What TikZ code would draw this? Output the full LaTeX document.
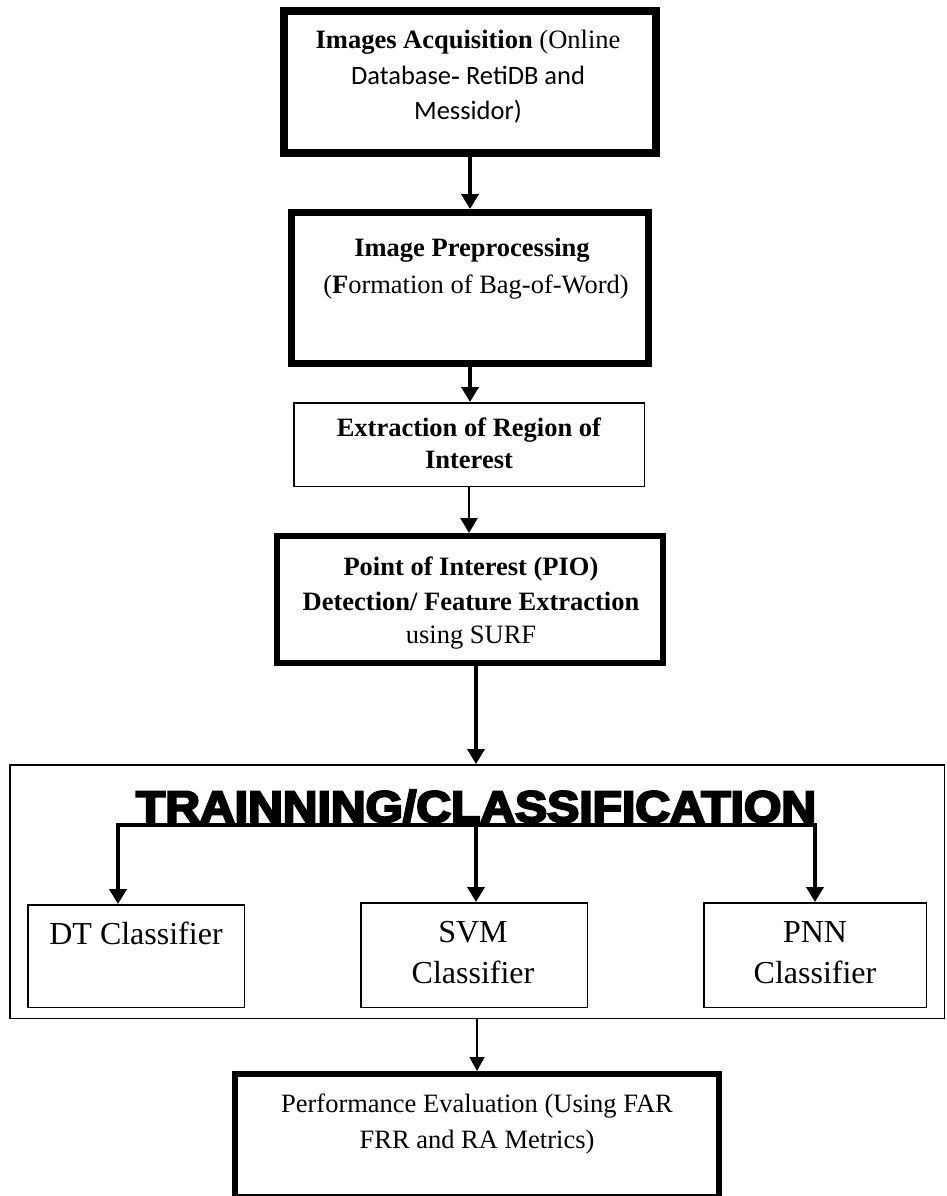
\documentclass[tikz,border=0pt]{standalone}
\usepackage{fontspec}
\setmainfont{Liberation Serif}
\newfontfamily\calibri{Carlito}
\newfontfamily\heavy[FakeBold=5]{Liberation Sans}
\usetikzlibrary{arrows.meta,calc}
\begin{document}
\begin{tikzpicture}[x=1pt,y=-1pt,
  box/.style={draw, rectangle, inner sep=0pt},
  txt/.style={anchor=base, inner sep=0pt, font=\fontsize{26.5}{30}\selectfont},
  ctxt/.style={anchor=base, inner sep=0pt, font=\fontsize{32}{36}\selectfont},
  thickarr/.style={line width=4.5pt, -{Triangle[width=17pt,length=15pt]}},
  medarr/.style={line width=2.5pt, -{Triangle[width=17pt,length=15pt]}},
  thinarr/.style={line width=1.5pt, -{Triangle[width=15pt,length=14pt]}},
]
\useasboundingbox (0,0) rectangle (947,1196);
\fill[white] (0,0) rectangle (947,1196);

% boxes
\node[box, line width=8pt, minimum width=372pt, minimum height=142pt] (b1) at (470,82) {};
\node[box, line width=7pt, minimum width=357pt, minimum height=151pt] (b2) at (470,288) {};
\node[box, line width=1.5pt, minimum width=350.5pt, minimum height=83.5pt] (b3) at (469,444.5) {};
\node[box, line width=6pt, minimum width=386pt, minimum height=127pt] (b4) at (470,599.5) {};
\node[box, line width=1.5pt, minimum width=934.5pt, minimum height=253.5pt] (big) at (477,891.5) {};
\node[box, line width=1.5pt, minimum width=216.5pt, minimum height=102.5pt] (dt) at (136,956) {};
\node[box, line width=1.5pt, minimum width=226.5pt, minimum height=104.5pt] (svm) at (474,955) {};
\node[box, line width=1.5pt, minimum width=222.5pt, minimum height=104.5pt] (pnn) at (815,955) {};
\node[box, line width=6pt, minimum width=484pt, minimum height=123pt] (perf) at (477,1135.5) {};

% texts box 1
\node[txt] (t1a) at (468,49) {\textbf{Images Acquisition} (Online};
\node[txt] (t1b) at (468,85) {\calibri Database{\rmfamily\bfseries -} RetiDB and};
\node[txt] (t1c) at (468,120) {\calibri Messidor)};
% box 2
\node[txt] (t2a) at (472,256) {\textbf{Image Preprocessing}};
\node[txt] (t2b) at (476,293) {(\textbf{F}ormation of Bag-of-Word)};
% box 3
\node[txt] (t3a) at (469,436) {\textbf{Extraction of Region of}};
\node[txt] (t3b) at (469,468) {\textbf{Interest}};
% box 4
\node[txt] (t4a) at (471,575) {\textbf{Point of Interest (PIO)}};
\node[txt] (t4b) at (471,610) {\textbf{Detection/ Feature Extraction}};
\node[txt] (t4c) at (471,643) {using SURF};
% title
\node[anchor=base, inner sep=0pt] (title) at (476,822)
  {\resizebox{680pt}{32pt}{\heavy\bfseries TRAINNING/CLASSIFICATION}};
\draw[line width=4.5pt] ($(title.base west)+(0,3)$) -- ($(title.base east)+(0,3)$);
% classifiers
\node[ctxt] (tdt) at (136,944) {DT Classifier};
\node[ctxt] (tsvma) at (473,942) {SVM};
\node[ctxt] (tsvmb) at (473,983) {Classifier};
\node[ctxt] (tpnna) at (815,942) {PNN};
\node[ctxt] (tpnnb) at (815,983) {Classifier};
% perf
\node[txt] (t5a) at (477,1112) {Performance Evaluation (Using FAR};
\node[txt] (t5b) at (477,1148) {FRR and RA Metrics)};

% connectors
\coordinate (j) at (476,825);
\draw[thickarr] (b1.south) -- (b1.south |- b2.north);
\draw[thickarr] (b2.south) -- (b2.south |- b3.north);
\draw[medarr] (b3.south) -- (b3.south |- b4.north);
\draw[thickarr] (b4.south -| j) -- (big.north -| j);
\draw[thickarr] (j) -| ($(dt.north)+(-18,0)$);
\draw[thickarr] (j) -- (j |- svm.north);
\draw[thickarr] (j) -| (pnn.north);
\draw[thinarr] (big.south) -- (perf.north);
\end{tikzpicture}
\end{document}
